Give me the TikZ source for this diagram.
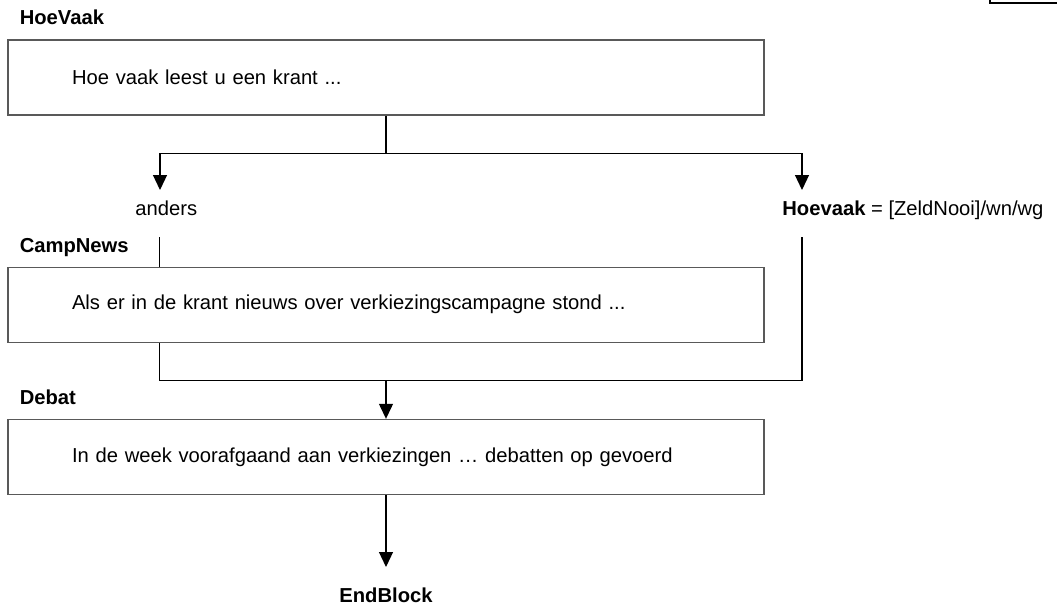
\documentclass[tikz,border=0pt]{standalone}
\usepackage{fontspec}
\setmainfont{Liberation Sans}
\usetikzlibrary{arrows.meta, positioning, calc}

\begin{document}
\begin{tikzpicture}[
    x=0.5pt, y=-0.5pt,
    font=\fontsize{10.1}{12}\selectfont,
    qbox/.style={draw=black!65, line width=0.6pt, minimum height=37.5pt, text width=314pt, inner xsep=32pt, inner ysep=0pt, align=left},
    blockname/.style={font=\fontsize{10.1}{12}\selectfont\bfseries, inner sep=0pt, anchor=base west},
    cond/.style={inner sep=0pt, anchor=base west},
    line/.style={line width=0.6pt},
    arrow/.style={line width=0.6pt, -{Triangle[width=7pt,length=7.5pt]}}
]
    \useasboundingbox (0,0) rectangle (1057,607);

    \node[qbox] (hoevaak) at (386,77.5) {Hoe vaak leest u een krant ...};
    \node[qbox, below=75.5pt of hoevaak] (campnews) {Als er in de krant nieuws over verkiezingscampagne stond ...};
    \node[qbox, below=38pt of campnews] (debat) {In de week voorafgaand aan verkiezingen … debatten op gevoerd};

    \node[blockname] (lblhoevaak) at ($(hoevaak.north west)+(12,-15)$) {HoeVaak};
    \node[blockname] (lblcampnews) at ($(campnews.north west)+(12,-14)$) {CampNews};
    \node[blockname] (lbldebat) at ($(debat.north west)+(12,-14)$) {Debat};

    % split after HoeVaak
    \coordinate (split) at ($(hoevaak.south)+(0,38)$);
    \coordinate (tipanders) at (160,190);
    \coordinate (tiphv) at (802,190);
    \draw[line] (hoevaak.south) -- (split);
    \draw[arrow] (split) -| (tipanders);
    \draw[arrow] (split) -| (tiphv);

    \node[cond] (anders) at (135,215) {anders};
    \node[cond] (hvcond) at (782,215) {\textbf{Hoevaak} = [ZeldNooi]/wn/wg};

    % into and out of CampNews
    \coordinate (in2) at ($(campnews.north west)+(152,0)$);
    \coordinate (out2) at ($(campnews.south west)+(152,0)$);
    \coordinate (skip) at ($(hvcond.base -| tiphv)+(0,22)$);
    \coordinate (merge) at ($(debat.north)+(0,-38)$);
    \draw[line] (in2) -- ++(0,-30);
    \draw[line] (out2) |- (merge);
    \draw[line] (skip) |- (merge);
    \draw[arrow] (merge) -- (debat.north);

    \node[blockname, anchor=base] (endblock) at (386,602) {EndBlock};
    \coordinate (tipend) at ($(endblock.base)+(0,-35)$);
    \draw[arrow] (debat.south) -- (tipend);

    \draw[line width=1pt] (990,0) -- (990,3) -- (1057,3);
\end{tikzpicture}
\end{document}
